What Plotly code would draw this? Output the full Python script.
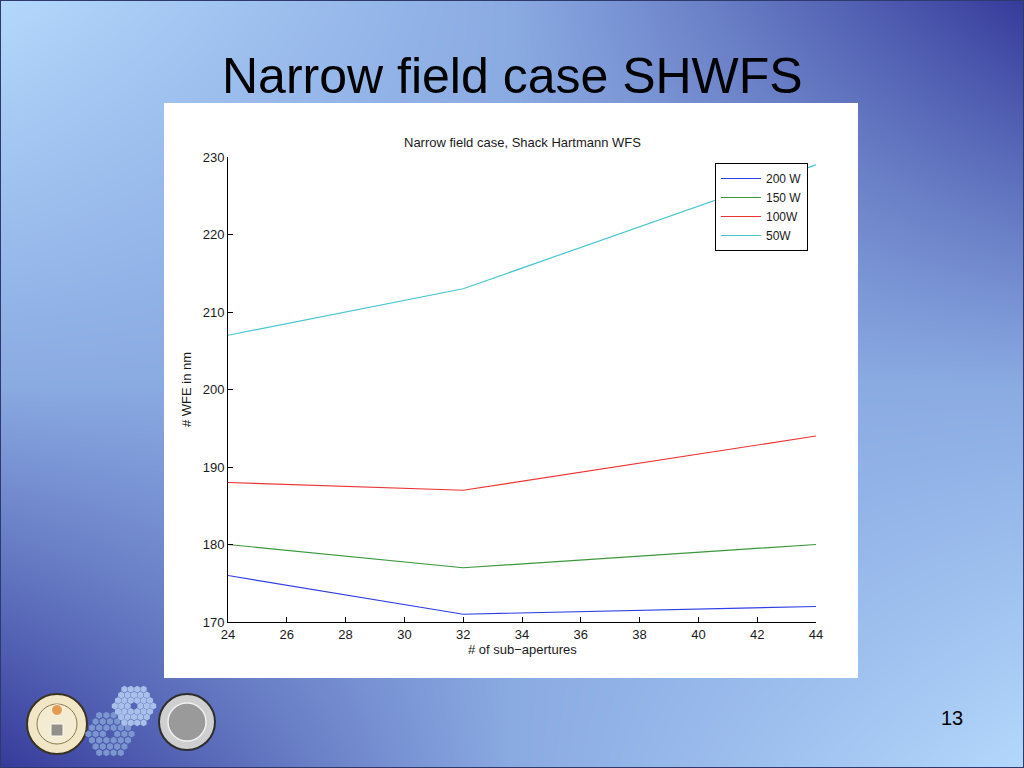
import plotly.graph_objects as go

# ---------------- data ----------------
sub_apertures = [24, 32, 44]
wfe_200W = [176, 171, 172]
wfe_150W = [180, 177, 180]
wfe_100W = [188, 187, 194]
wfe_50W = [207, 213, 229]
series_names = ["200 W", "150 W", "100W", "50W"]
series_colors = ["#2f3fe6", "#3a983a", "#ec3434", "#46c6cf"]
x_ticks = [24, 26, 28, 30, 32, 34, 36, 38, 40, 42, 44]
y_ticks = [170, 180, 190, 200, 210, 220, 230]

FONT = "Liberation Sans, Arial, Helvetica, sans-serif"
W, H = 1024, 768

fig = go.Figure()

# ---------------- slide background (pixel-space axis x/y) ----------------
fig.add_trace(go.Heatmap(
    x=[0, 512, 1024], y=[0, 384, 768],
    z=[[0.0, 0.5, 1.0],
       [0.5, 0.5, 0.5],
       [1.0, 0.5, 0.0]],
    zsmooth="best", showscale=False, hoverinfo="skip",
    colorscale=[[0.0, "#b4d8fc"], [0.5, "#8aaae2"], [1.0, "#353a9a"]],
    zmin=0, zmax=1, xaxis="x", yaxis="y",
))

# white chart panel
fig.add_trace(go.Scatter(
    x=[164, 858, 858, 164, 164], y=[103, 103, 678, 678, 103],
    mode="lines", fill="toself", fillcolor="white",
    line=dict(width=0, color="white"), hoverinfo="skip", showlegend=False,
    xaxis="x", yaxis="y",
))

# ---- logos (decoration) ----
# Caltech seal
fig.add_trace(go.Scatter(x=[57], y=[724], mode="markers", hoverinfo="skip", showlegend=False,
                         marker=dict(size=60, color="#f1e7c6", line=dict(color="#3a3322", width=2)),
                         xaxis="x", yaxis="y"))
fig.add_trace(go.Scatter(x=[57], y=[724], mode="markers", hoverinfo="skip", showlegend=False,
                         marker=dict(size=40, color="#f4ecd2", line=dict(color="#8a7a50", width=1)),
                         xaxis="x", yaxis="y"))
fig.add_trace(go.Scatter(x=[57, 57], y=[710, 730], mode="markers", hoverinfo="skip", showlegend=False,
                         marker=dict(size=[11, 12], color=["#e07818", "#6a6a6a"], symbol=["circle", "square"]),
                         xaxis="x", yaxis="y"))
# hexagonal segmented mirrors
hx, hy, hc = [], [], []
for (cx, cy, col, s) in [(110, 734, "#7c97cf", 7.2), (134, 706, "#a9c1ea", 6.4)]:
    for q in range(-3, 4):
        for r in range(-3, 4):
            if abs(q + r) > 3 or (q == 0 and r == 0):
                continue
            hx.append(cx + s * (q + r / 2.0))
            hy.append(cy + s * 0.866 * r)
            hc.append(col)
fig.add_trace(go.Scatter(x=hx, y=hy, mode="markers", hoverinfo="skip", showlegend=False,
                         marker=dict(size=7, color=hc, symbol="hexagon", line=dict(width=0)),
                         xaxis="x", yaxis="y"))
# UC seal
fig.add_trace(go.Scatter(x=[187], y=[722], mode="markers", hoverinfo="skip", showlegend=False,
                         marker=dict(size=56, color="#cfcfcf", line=dict(color="#2e2e2e", width=2)),
                         xaxis="x", yaxis="y"))
fig.add_trace(go.Scatter(x=[187], y=[722], mode="markers", hoverinfo="skip", showlegend=False,
                         marker=dict(size=38, color="#9a9a9a", line=dict(color="#f0f0f0", width=1.5)),
                         xaxis="x", yaxis="y"))

# ---------------- data series ----------------
for name, vals, col in zip(series_names, [wfe_200W, wfe_150W, wfe_100W, wfe_50W], series_colors):
    fig.add_trace(go.Scatter(
        x=sub_apertures, y=vals, mode="lines", name=name,
        line=dict(color=col, width=1.2), xaxis="x2", yaxis="y2",
    ))

# ---------------- layout ----------------
axis_font = dict(family=FONT, size=13, color="#1a1a1a")
fig.update_layout(
    width=W, height=H, margin=dict(l=0, r=0, t=0, b=0, pad=0, autoexpand=False),
    paper_bgcolor="#8aaae2", plot_bgcolor="rgba(0,0,0,0)",
    font=dict(family=FONT, color="#1a1a1a"),
    xaxis=dict(domain=[0, 1], range=[0, W], visible=False, fixedrange=True, automargin=False),
    yaxis=dict(domain=[0, 1], range=[H, 0], visible=False, fixedrange=True, automargin=False),
    xaxis2=dict(domain=[228 / W, 816 / W], anchor="y2", range=[24, 44],
                tickvals=x_ticks, ticks="inside", ticklen=5, tickcolor="black",
                showline=True, linecolor="black", linewidth=1, showgrid=False,
                zeroline=False, tickfont=axis_font, mirror=False, automargin=False),
    yaxis2=dict(domain=[1 - 622 / H, 1 - 157 / H], anchor="x2", range=[170, 230],
                tickvals=y_ticks, ticks="inside", ticklen=5, tickcolor="black",
                showline=True, linecolor="black", linewidth=1, showgrid=False,
                zeroline=False, tickfont=axis_font, mirror=False, automargin=False),
    legend=dict(x=715 / W, y=1 - 163 / H, xanchor="left", yanchor="top",
                bgcolor="white", bordercolor="black", borderwidth=1,
                font=dict(family=FONT, size=12, color="#1a1a1a"),
                itemwidth=40, tracegroupgap=0),
    showlegend=True,
)

annotations = [
    dict(text="Narrow field case SHWFS", x=512, y=76, xref="x", yref="y",
         showarrow=False, font=dict(family=FONT, size=50, color="black")),
    dict(text="Narrow field case, Shack Hartmann WFS", x=522, y=142, xref="x", yref="y",
         showarrow=False, font=dict(family=FONT, size=13, color="#1a1a1a")),
    dict(text="# of sub\u2212apertures", x=522, y=649, xref="x", yref="y",
         showarrow=False, font=dict(family=FONT, size=13, color="#1a1a1a")),
    dict(text="# WFE in nm", x=186, y=390, xref="x", yref="y", textangle=-90,
         showarrow=False, font=dict(family=FONT, size=13, color="#1a1a1a")),
    dict(text="13", x=952, y=718, xref="x", yref="y",
         showarrow=False, font=dict(family=FONT, size=20, color="black")),
]
fig.update_layout(annotations=annotations)

fig.add_shape(type="rect", xref="paper", yref="paper", x0=0, x1=1, y0=0, y1=1,
              line=dict(color="#2c3a6e", width=2), fillcolor="rgba(0,0,0,0)", layer="above")

fig.write_html("out.html", config={"displayModeBar": False},
               post_script="document.body.style.margin='0';document.body.style.overflow='hidden';")
